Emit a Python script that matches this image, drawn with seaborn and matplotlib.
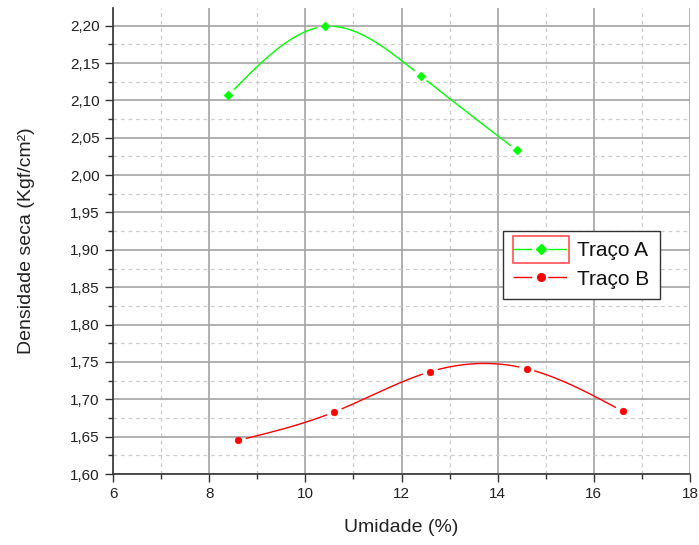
import numpy as np
import pandas as pd
import matplotlib
matplotlib.use("Agg")
import matplotlib.pyplot as plt
from matplotlib.lines import Line2D
from matplotlib.patches import Rectangle
from matplotlib.ticker import MultipleLocator, FuncFormatter
import seaborn as sns

# Compaction test results
umidade_a = [8.4, 10.4, 12.4, 14.4]
densidade_a = [2.107, 2.199, 2.133, 2.033]
umidade_b = [8.6, 10.6, 12.6, 14.6, 16.6]
densidade_b = [1.645, 1.683, 1.737, 1.741, 1.684]
series_names = ["Traço A", "Traço B"]
series_colors = ["#00ff00", "#ff0000"]
series_markers = ["D", "o"]


def natural_spline(x, y, xs):
    """Natural cubic spline through (x, y), evaluated at xs."""
    x = np.asarray(x, float)
    y = np.asarray(y, float)
    n = len(x)
    h = np.diff(x)
    m = np.zeros(n)
    if n > 2:
        a = np.zeros((n - 2, n - 2))
        r = np.zeros(n - 2)
        for i in range(n - 2):
            a[i, i] = 2 * (h[i] + h[i + 1])
            if i > 0:
                a[i, i - 1] = h[i]
            if i < n - 3:
                a[i, i + 1] = h[i + 1]
            r[i] = 6 * ((y[i + 2] - y[i + 1]) / h[i + 1] - (y[i + 1] - y[i]) / h[i])
        m[1:-1] = np.linalg.solve(a, r)
    idx = np.clip(np.searchsorted(x, xs) - 1, 0, n - 2)
    x0, x1 = x[idx], x[idx + 1]
    hh = x1 - x0
    t0 = x1 - xs
    t1 = xs - x0
    return (m[idx] * t0 ** 3 / (6 * hh) + m[idx + 1] * t1 ** 3 / (6 * hh)
            + (y[idx] / hh - m[idx] * hh / 6) * t0
            + (y[idx + 1] / hh - m[idx + 1] * hh / 6) * t1)


def curve_with_gaps(x, y, px_x=48.0, px_y=750.0, gap=8.0):
    """Smooth curve, broken around each symbol."""
    xs = np.linspace(min(x), max(x), 800)
    ys = natural_spline(x, y, xs)
    d = np.full(xs.shape, np.inf)
    for xi, yi in zip(x, y):
        d = np.minimum(d, np.hypot((xs - xi) * px_x, (ys - yi) * px_y))
    ys = np.where(d < gap, np.nan, ys)
    return xs, ys


sns.set_theme(style="white")
plt.rcParams["font.family"] = ["Liberation Sans", "DejaVu Sans"]

fig = plt.figure(figsize=(6.99, 5.45), dpi=100)
ax = fig.add_axes([113 / 699, 1 - 474 / 545, 577 / 699, 466 / 545])

datasets = [(umidade_a, densidade_a), (umidade_b, densidade_b)]
for (ux, dy), name, color, marker in zip(datasets, series_names, series_colors, series_markers):
    cx, cy = curve_with_gaps(ux, dy)
    curve = pd.DataFrame({"Umidade": cx, "Densidade": cy})
    ax.plot(curve["Umidade"], curve["Densidade"], color=color, lw=1.0, zorder=3)
    pts = pd.DataFrame({"Umidade": ux, "Densidade": dy})
    sns.scatterplot(data=pts, x="Umidade", y="Densidade", ax=ax, color=color,
                    marker=marker, s=20 if marker == "D" else 22,
                    edgecolor=color, linewidth=0.5, zorder=4, legend=False)

ax.set_xlim(6, 18)
ax.set_ylim(1.60, 2.2237)
ax.xaxis.set_major_locator(MultipleLocator(2))
ax.xaxis.set_minor_locator(MultipleLocator(1))
ax.yaxis.set_major_locator(MultipleLocator(0.05))
ax.yaxis.set_minor_locator(MultipleLocator(0.025))
ax.yaxis.set_major_formatter(FuncFormatter(lambda v, p: f"{v:.2f}".replace(".", ",")))
ax.xaxis.set_major_formatter(FuncFormatter(lambda v, p: f"{v:.0f}"))

ax.grid(which="major", color="#a3a3a3", lw=1.2, ls="-", zorder=0)
ax.grid(which="minor", color="#cccccc", lw=0.9, ls=(0, (3, 3)), zorder=0)
ax.set_axisbelow(True)

for side in ["top", "right"]:
    ax.spines[side].set_visible(False)
for side in ["left", "bottom"]:
    ax.spines[side].set_color("#333333")
    ax.spines[side].set_linewidth(1.2)

ax.tick_params(which="major", direction="out", length=5.5, width=1, color="#333333",
               labelsize=11, labelcolor="#222222", left=True, bottom=True, pad=4)
ax.tick_params(which="minor", direction="out", length=3.5, width=1, color="#333333",
               left=True, bottom=True)

ax.set_xlabel("Umidade (%)", fontsize=14, color="#222222", labelpad=13)
ax.set_ylabel("Densidade seca (Kgf/cm²)", fontsize=14, color="#222222", labelpad=25)

handles = [
    Line2D([], [], color=c, lw=1.0, marker=mk, markersize=5 if mk == "D" else 5.5,
           dashes=(13.5, 11.5))
    for c, mk in zip(series_colors, series_markers)
]
leg = ax.legend(handles, series_names, loc="upper left", bbox_to_anchor=(0.676, 0.5215),
                borderaxespad=0, fontsize=15, frameon=True, fancybox=False,
                edgecolor="#333333", framealpha=1, handlelength=2.6,
                handletextpad=0.45, labelspacing=0.45, borderpad=0.5)
leg.get_frame().set_linewidth(1.0)
for t in leg.get_texts():
    t.set_color("#111111")

# Highlight frame around the first legend symbol
fig.canvas.draw()
renderer = fig.canvas.get_renderer()
bb = leg.legend_handles[0].get_window_extent(renderer)
cx = (bb.x0 + bb.x1) / 2
cy = (bb.y0 + bb.y1) / 2
w, h = 56, 27
fig.patches.append(Rectangle(((cx - w / 2) / fig.bbox.width, (cy - h / 2) / fig.bbox.height),
                             w / fig.bbox.width, h / fig.bbox.height,
                             transform=fig.transFigure, fill=False,
                             edgecolor="#ff5050", lw=1.2, zorder=10))

fig.savefig("out.png", dpi=100)
